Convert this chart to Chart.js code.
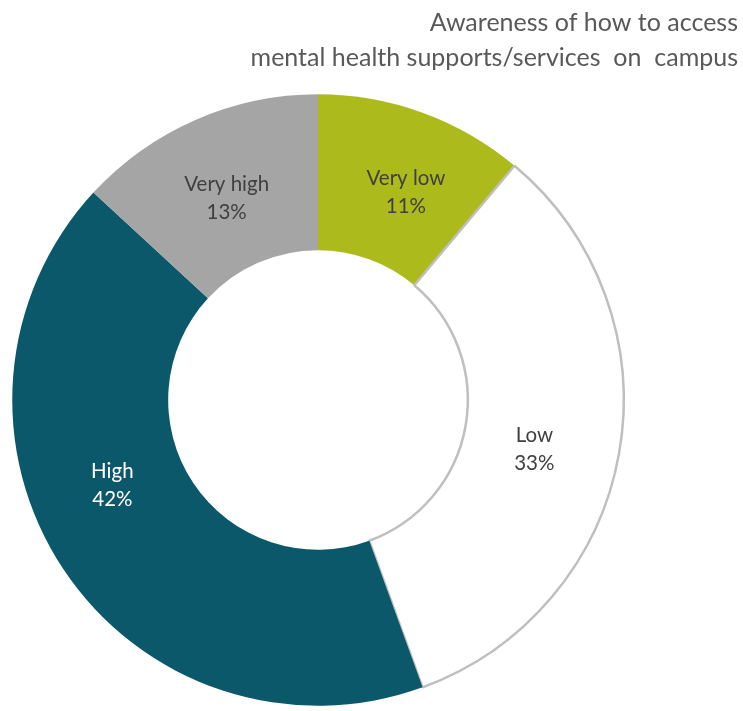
<!DOCTYPE html>
<html>
<head>
<meta charset="utf-8">
<script src="https://cdn.jsdelivr.net/npm/chart.js@4"></script>
<style>
  html, body { margin: 0; padding: 0; background: #ffffff; }
  #wrap { position: relative; width: 743px; height: 711px; }
</style>
</head>
<body>
<div id="wrap"><canvas id="chart" width="743" height="711"></canvas></div>
<script>
// Survey result: awareness of how to access mental health supports on campus
const titleLines = ['Awareness of how to access', 'mental health supports/services  on  campus'];
const categories = ['Very low', 'Low', 'High', 'Very high'];
const percents = [11, 33, 42, 13];
const sliceColors = ['#adba1b', '#ffffff', '#0b586b', '#a5a5a5'];
const labelColors = ['#404040', '#404040', '#ffffff', '#404040'];

const FONT = 'Lato, "Open Sans", sans-serif';

// Draws the two-line heading at the top right
const titlePlugin = {
  id: 'cornerTitle',
  afterDraw(chart) {
    const ctx = chart.ctx;
    ctx.save();
    ctx.font = '25px ' + FONT;
    ctx.fillStyle = '#595959';
    ctx.textAlign = 'right';
    ctx.textBaseline = 'alphabetic';
    ctx.fillText(titleLines[0], 738, 31);
    ctx.fillText(titleLines[1], 738, 66);
    ctx.restore();
  }
};

// Category name and percentage on each slice; small per-slice pixel nudges
// keep the text clear of the slice edges
const labelNudge = [[10, 6], [-8, 10], [-16, -41], [0, 7]];
const sliceLabels = {
  id: 'sliceLabels',
  afterDatasetsDraw(chart) {
    const ctx = chart.ctx;
    const meta = chart.getDatasetMeta(0);
    ctx.save();
    ctx.font = '20.5px ' + FONT;
    ctx.textAlign = 'center';
    ctx.textBaseline = 'middle';
    meta.data.forEach((arc, i) => {
      const p = arc.tooltipPosition();
      const x = p.x + labelNudge[i][0];
      const y = p.y + labelNudge[i][1];
      ctx.fillStyle = labelColors[i];
      ctx.fillText(categories[i], x, y - 14);
      ctx.fillText(percents[i] + '%', x, y + 14);
    });
    ctx.restore();
  }
};

new Chart(document.getElementById('chart'), {
  type: 'doughnut',
  data: {
    labels: categories,
    datasets: [{
      data: percents,
      backgroundColor: sliceColors,
      borderColor: ['#ffffff', '#bfbfbf', '#ffffff', '#ffffff'],
      borderWidth: [0, 2.5, 0, 0],
      hoverOffset: 0
    }]
  },
  options: {
    responsive: false,
    animation: false,
    events: [],
    cutout: '49%',
    layout: { padding: { left: 10, right: 117, top: 93, bottom: 4 } },
    plugins: {
      legend: { display: false },
      tooltip: { enabled: false },
      title: { display: false }
    }
  },
  plugins: [titlePlugin, sliceLabels]
});
</script>
</body>
</html>
